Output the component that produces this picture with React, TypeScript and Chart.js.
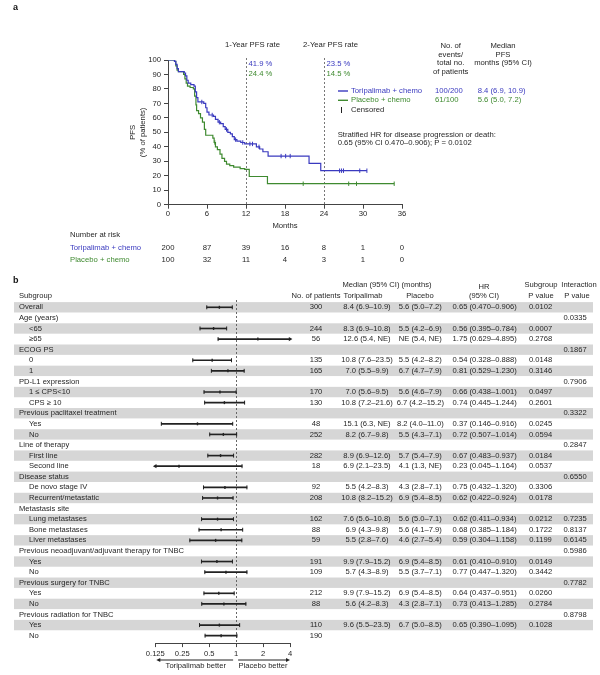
import React, { useEffect, useRef } from 'react';
import { Chart, registerables } from 'chart.js';

Chart.register(...registerables);

const FONT = '"Liberation Sans", Arial, Helvetica, sans-serif';
const BLUE = '#3a3abf';
const GREEN = '#3f8a30';
const INK = '#262626';
const AXIS = '#444444';
const BAND = '#d6d6d6';
const KM_SIZE = 7.7;
const FP_SIZE = 7.6;

// ---------- Panel a: Kaplan–Meier ----------
const kmMonthTicks = [0, 6, 12, 18, 24, 30, 36];
const toriSteps: [number, number][] = [
  [0, 100], [1.0, 99], [1.2, 97], [1.4, 94], [1.6, 92], [2.5, 91], [2.7, 89], [2.9, 86], [3.1, 84],
  [3.5, 83], [4.0, 82], [4.2, 78], [4.4, 74], [4.6, 71], [5.5, 70], [5.8, 67], [6.0, 64], [6.3, 62],
  [7.0, 61], [7.3, 59], [7.7, 57], [8.1, 56], [8.5, 54], [8.8, 52], [9.2, 50], [9.6, 49], [9.9, 47],
  [10.2, 45], [10.6, 44], [11.2, 43], [11.8, 42], [13.6, 40], [14.1, 38.5], [14.6, 36.6], [15.4, 33.6],
  [21.7, 28.6], [23.5, 23.5], [30.6, 23.5],
];
const placeboSteps: [number, number][] = [
  [0, 100], [1.0, 99], [1.2, 96], [1.4, 93], [1.6, 92], [2.4, 90], [2.6, 87], [2.8, 84], [3.0, 82],
  [3.4, 81], [3.9, 80], [4.1, 75], [4.3, 69], [4.4, 65], [4.7, 63], [5.0, 60], [5.3, 57], [5.6, 52],
  [5.8, 48], [6.9, 46], [7.1, 43], [7.3, 40], [7.6, 38], [8.0, 35], [8.3, 32], [8.7, 30], [9.0, 28],
  [9.5, 27], [10.1, 26], [11.1, 25], [11.8, 24.4], [12.5, 19.5], [15.3, 14.5], [34.8, 14.5],
];
const toriCensored: [number, number][] = [
  [5.2, 71], [6.8, 62], [7.9, 57], [9.0, 52], [10.4, 45], [11.5, 43], [12.6, 42], [13.0, 42], [14.0, 40],
  [17.4, 33.6], [18.1, 33.6], [18.8, 33.6], [26.4, 23.5], [26.7, 23.5], [27.0, 23.5], [29.5, 23.5], [30.6, 23.5],
];
const placeboCensored: [number, number][] = [
  [7.2, 43], [20.8, 14.5], [27.8, 14.5], [29.0, 14.5], [34.8, 14.5],
];
const riskTori = [200, 87, 39, 16, 8, 1, 0];
const riskPlacebo = [100, 32, 11, 4, 3, 1, 0];
const landmarkMonths = [12, 24];
const landmarkLabels = ['1-Year PFS rate', '2-Year PFS rate'];
const landmarkTori = ['41.9 %', '23.5 %'];
const landmarkPlacebo = ['24.4 %', '14.5 %'];
const armNames = ['Toripalimab + chemo', 'Placebo + chemo'];
const armEvents = ['100/200', '61/100'];
const armMedian = ['8.4 (6.9, 10.9)', '5.6 (5.0, 7.2)'];

// ---------- Panel b: forest plot ----------
const subgroupLabels = [
  'Overall', 'Age (years)', '<65', '≥65', 'ECOG PS', '0', '1', 'PD-L1 expression', '1 ≤ CPS<10', 'CPS ≥ 10',
  'Previous paclitaxel treatment', 'Yes', 'No', 'Line of therapy', 'First line', 'Second line', 'Disease status',
  'De novo stage IV', 'Recurrent/metastatic', 'Metastasis site', 'Lung metastases', 'Bone metastases',
  'Liver metastases', 'Previous neoadjuvant/adjuvant therapy for TNBC', 'Yes', 'No', 'Previous surgery for TNBC',
  'Yes', 'No', 'Previous radiation for TNBC', 'Yes', 'No',
];
const subgroupIndent = [0, 0, 1, 1, 0, 1, 1, 0, 1, 1, 0, 1, 1, 0, 1, 1, 0, 1, 1, 0, 1, 1, 1, 0, 1, 1, 0, 1, 1, 0, 1, 1];
const patients = ['300', '', '244', '56', '', '135', '165', '', '170', '130', '', '48', '252', '', '282', '18', '',
  '92', '208', '', '162', '88', '59', '', '191', '109', '', '212', '88', '', '110', '190'];
const toriMedian = ['8.4 (6.9–10.9)', '', '8.3 (6.9–10.8)', '12.6 (5.4, NE)', '', '10.8 (7.6–23.5)', '7.0 (5.5–9.9)', '',
  '7.0 (5.6–9.5)', '10.8 (7.2–21.6)', '', '15.1 (6.3, NE)', '8.2 (6.7–9.8)', '', '8.9 (6.9–12.6)', '6.9 (2.1–23.5)', '',
  '5.5 (4.2–8.3)', '10.8 (8.2–15.2)', '', '7.6 (5.6–10.8)', '6.9 (4.3–9.8)', '5.5 (2.8–7.6)', '', '9.9 (7.9–15.2)',
  '5.7 (4.3–8.9)', '', '9.9 (7.9–15.2)', '5.6 (4.2–8.3)', '', '9.6 (5.5–23.5)', ''];
const placeboMedian = ['5.6 (5.0–7.2)', '', '5.5 (4.2–6.9)', 'NE (5.4, NE)', '', '5.5 (4.2–8.2)', '6.7 (4.7–7.9)', '',
  '5.6 (4.6–7.9)', '6.7 (4.2–15.2)', '', '8.2 (4.0–11.0)', '5.5 (4.3–7.1)', '', '5.7 (5.4–7.9)', '4.1 (1.3, NE)', '',
  '4.3 (2.8–7.1)', '6.9 (5.4–8.5)', '', '5.6 (5.0–7.1)', '5.6 (4.1–7.9)', '4.6 (2.7–5.4)', '', '6.9 (5.4–8.5)',
  '5.5 (3.7–7.1)', '', '6.9 (5.4–8.5)', '4.3 (2.8–7.1)', '', '6.7 (5.0–8.5)', ''];
const hrText = ['0.65 (0.470–0.906)', '', '0.56 (0.395–0.784)', '1.75 (0.629–4.895)', '', '0.54 (0.328–0.888)',
  '0.81 (0.529–1.230)', '', '0.66 (0.438–1.001)', '0.74 (0.445–1.244)', '', '0.37 (0.146–0.916)', '0.72 (0.507–1.014)', '',
  '0.67 (0.483–0.937)', '0.23 (0.045–1.164)', '', '0.75 (0.432–1.320)', '0.62 (0.422–0.924)', '', '0.62 (0.411–0.934)',
  '0.68 (0.385–1.184)', '0.59 (0.304–1.158)', '', '0.61 (0.410–0.910)', '0.77 (0.447–1.320)', '', '0.64 (0.437–0.951)',
  '0.73 (0.413–1.285)', '', '0.65 (0.390–1.095)', ''];
const hrValue = [0.65, null, 0.56, 1.75, null, 0.54, 0.81, null, 0.66, 0.74, null, 0.37, 0.72, null, 0.67, 0.23, null,
  0.75, 0.62, null, 0.62, 0.68, 0.59, null, 0.61, 0.77, null, 0.64, 0.73, null, 0.65, 0.68];
const hrLower = [0.470, null, 0.395, 0.629, null, 0.328, 0.529, null, 0.438, 0.445, null, 0.146, 0.507, null, 0.483, 0.045,
  null, 0.432, 0.422, null, 0.411, 0.385, 0.304, null, 0.410, 0.447, null, 0.437, 0.413, null, 0.390, 0.45];
const hrUpper = [0.906, null, 0.784, 4.895, null, 0.888, 1.230, null, 1.001, 1.244, null, 0.916, 1.014, null, 0.937, 1.164,
  null, 1.320, 0.924, null, 0.934, 1.184, 1.158, null, 0.910, 1.320, null, 0.951, 1.285, null, 1.095, 1.02];
const subgroupP = ['0.0102', '', '0.0007', '0.2768', '', '0.0148', '0.3146', '', '0.0497', '0.2601', '', '0.0245', '0.0594',
  '', '0.0184', '0.0537', '', '0.3306', '0.0178', '', '0.0212', '0.1722', '0.1199', '', '0.0149', '0.3442', '', '0.0260',
  '0.2784', '', '0.1028', ''];
const interactionP = ['', '0.0335', '', '', '0.1867', '', '', '0.7906', '', '', '0.3322', '', '', '0.2847', '', '', '0.6550',
  '', '', '', '0.7235', '0.8137', '0.6145', '0.5986', '', '', '0.7782', '', '', '0.8798', '', ''];
const hrTicks = [0.125, 0.25, 0.5, 1, 2, 4];
const hrTickLabels = ['0.125', '0.25', '0.5', '1', '2', '4'];

function txt(ctx: CanvasRenderingContext2D, s: string, x: number, y: number,
  o: { align?: CanvasTextAlign; color?: string; size?: number; bold?: boolean } = {}) {
  ctx.font = `${o.bold ? 'bold ' : ''}${o.size ?? KM_SIZE}px ${FONT}`;
  ctx.fillStyle = o.color ?? INK;
  ctx.textAlign = o.align ?? 'left';
  ctx.textBaseline = 'middle';
  ctx.fillText(s, x, y);
}

const kmOverlay = {
  id: 'kmOverlay',
  beforeDatasetsDraw(chart: any) {
    const { ctx, scales: { x, y } } = chart;
    ctx.save();
    ctx.strokeStyle = '#777';
    ctx.lineWidth = 1;
    ctx.setLineDash([2, 2]);
    landmarkMonths.forEach((m) => {
      const px = Math.round(x.getPixelForValue(m)) + 0.5;
      ctx.beginPath();
      ctx.moveTo(px, y.getPixelForValue(100) - 2);
      ctx.lineTo(px, y.getPixelForValue(0));
      ctx.stroke();
    });
    ctx.restore();
  },
  afterDraw(chart: any) {
    const { ctx, scales: { x } } = chart;
    ctx.save();
    txt(ctx, 'a', 13, 8, { bold: true, size: 9, color: '#111' });
    landmarkMonths.forEach((m, i) => {
      const px = x.getPixelForValue(m);
      txt(ctx, landmarkLabels[i], px + 6.5, 45, { align: 'center' });
      txt(ctx, landmarkTori[i], px + 2.5, 64, { color: BLUE });
      txt(ctx, landmarkPlacebo[i], px + 2.5, 73.5, { color: GREEN });
    });
    ['No. of', 'events/', 'total no.', 'of patients'].forEach((s, i) =>
      txt(ctx, s, 450.7, 45.7 + i * 8.7, { align: 'center' }));
    ['Median', 'PFS', 'months (95% CI)'].forEach((s, i) =>
      txt(ctx, s, 503, 45.7 + i * 8.7, { align: 'center' }));
    const colors = [BLUE, GREEN];
    [91, 100.3].forEach((ly, i) => {
      ctx.strokeStyle = colors[i];
      ctx.lineWidth = 1.4;
      ctx.setLineDash([]);
      ctx.beginPath();
      ctx.moveTo(338, ly);
      ctx.lineTo(348, ly);
      ctx.stroke();
      txt(ctx, armNames[i], 351, ly, { color: colors[i] });
      txt(ctx, armEvents[i], 435, ly, { color: colors[i] });
      txt(ctx, armMedian[i], 477.7, ly, { color: colors[i] });
    });
    ctx.strokeStyle = '#222';
    ctx.lineWidth = 1;
    ctx.beginPath();
    ctx.moveTo(341.5, 107);
    ctx.lineTo(341.5, 113);
    ctx.stroke();
    txt(ctx, 'Censored', 351, 110);
    txt(ctx, 'Stratified HR for disease progression or death:', 337.7, 134.7);
    txt(ctx, '0.65 (95% CI 0.470–0.906); P = 0.0102', 337.7, 143.3);
    txt(ctx, 'Number at risk', 70, 235.3);
    txt(ctx, armNames[0], 70, 247.7, { color: BLUE });
    txt(ctx, armNames[1], 70, 259.7, { color: GREEN });
    kmMonthTicks.forEach((m, i) => {
      const px = x.getPixelForValue(m);
      txt(ctx, String(riskTori[i]), px, 247.7, { align: 'center' });
      txt(ctx, String(riskPlacebo[i]), px, 259.7, { align: 'center' });
    });
    ctx.restore();
  },
};

const forestOverlay = {
  id: 'forestOverlay',
  beforeDatasetsDraw(chart: any) {
    const { ctx, scales: { x, y } } = chart;
    ctx.save();
    ctx.fillStyle = BAND;
    subgroupLabels.forEach((_, i) => {
      if (i % 2 !== 0) return;
      const t = y.getPixelForValue(i - 0.49);
      const b = y.getPixelForValue(i + 0.49);
      ctx.fillRect(14, t, 593 - 14, b - t);
    });
    const px = Math.round(x.getPixelForValue(1)) + 0.5;
    ctx.strokeStyle = '#666';
    ctx.lineWidth = 1;
    ctx.setLineDash([2, 2]);
    ctx.beginPath();
    ctx.moveTo(px, y.getPixelForValue(-0.5) - 2);
    ctx.lineTo(px, chart.chartArea.bottom);
    ctx.stroke();
    ctx.restore();
  },
  afterDraw(chart: any) {
    const { ctx, scales: { x, y } } = chart;
    ctx.save();
    const S = FP_SIZE;
    txt(ctx, 'b', 13, 281, { bold: true, size: 9, color: '#111' });
    txt(ctx, 'Subgroup', 19, 295.5, { size: S });
    txt(ctx, 'No. of patients', 316, 296, { size: S, align: 'center' });
    txt(ctx, 'Median (95% CI) (months)', 387, 285, { size: S, align: 'center' });
    txt(ctx, 'Toripalimab', 363, 296, { size: S, align: 'center' });
    txt(ctx, 'Placebo', 420, 296, { size: S, align: 'center' });
    txt(ctx, 'HR', 484, 286.5, { size: S, align: 'center' });
    txt(ctx, '(95% CI)', 484, 296, { size: S, align: 'center' });
    txt(ctx, 'Subgroup', 541, 285, { size: S, align: 'center' });
    txt(ctx, 'P value', 541, 296, { size: S, align: 'center' });
    txt(ctx, 'Interaction', 579, 285, { size: S, align: 'center' });
    txt(ctx, 'P value', 577, 296, { size: S, align: 'center' });
    subgroupLabels.forEach((lab, i) => {
      const py = y.getPixelForValue(i);
      txt(ctx, lab, subgroupIndent[i] ? 29 : 19, py, { size: S });
      txt(ctx, patients[i], 316, py, { size: S, align: 'center' });
      txt(ctx, toriMedian[i], 367, py, { size: S, align: 'center' });
      txt(ctx, placeboMedian[i], 420.3, py, { size: S, align: 'center' });
      txt(ctx, hrText[i], 484.7, py, { size: S, align: 'center' });
      txt(ctx, subgroupP[i], 540.5, py, { size: S, align: 'center' });
      txt(ctx, interactionP[i], 575, py, { size: S, align: 'center' });
    });
    // direction arrows
    const ay = 660;
    const l0 = x.getPixelForValue(0.125) + 1;
    const l1 = x.getPixelForValue(1) - 3;
    const r0 = x.getPixelForValue(1) + 2;
    const r1 = x.getPixelForValue(4);
    ctx.strokeStyle = '#222';
    ctx.fillStyle = '#222';
    ctx.lineWidth = 1;
    ctx.setLineDash([]);
    ctx.beginPath();
    ctx.moveTo(l1, ay); ctx.lineTo(l0 + 3, ay);
    ctx.moveTo(r0, ay); ctx.lineTo(r1 - 3, ay);
    ctx.stroke();
    ctx.beginPath();
    ctx.moveTo(l0, ay); ctx.lineTo(l0 + 4, ay - 2); ctx.lineTo(l0 + 4, ay + 2); ctx.closePath();
    ctx.moveTo(r1, ay); ctx.lineTo(r1 - 4, ay - 2); ctx.lineTo(r1 - 4, ay + 2); ctx.closePath();
    ctx.fill();
    txt(ctx, 'Toripalimab better', x.getPixelForValue(0.354), 666, { size: S, align: 'center' });
    txt(ctx, 'Placebo better', x.getPixelForValue(2), 666, { size: S, align: 'center' });
    ctx.restore();
  },
};

const clampHR = (v: number) => Math.min(4, Math.max(0.125, v));

export default function App() {
  const kmRef = useRef<HTMLCanvasElement>(null);
  const fpRef = useRef<HTMLCanvasElement>(null);

  useEffect(() => {
    Chart.defaults.font.family = FONT;
    Chart.defaults.color = INK;

    const km = new Chart(kmRef.current as HTMLCanvasElement, {
      type: 'line',
      data: {
        datasets: [
          {
            label: armNames[0], data: toriSteps.map(([x, y]) => ({ x, y })), borderColor: BLUE,
            borderWidth: 1.2, stepped: true, pointRadius: 0, fill: false,
          } as any,
          {
            label: armNames[1], data: placeboSteps.map(([x, y]) => ({ x, y })), borderColor: GREEN,
            borderWidth: 1.2, stepped: true, pointRadius: 0, fill: false,
          } as any,
          {
            type: 'scatter', label: 'cens1', data: toriCensored.map(([x, y]) => ({ x, y })),
            pointStyle: 'line', pointRotation: 90, pointRadius: 2.2, pointBorderColor: BLUE,
            pointBorderWidth: 1, showLine: false, clip: false,
          } as any,
          {
            type: 'scatter', label: 'cens2', data: placeboCensored.map(([x, y]) => ({ x, y })),
            pointStyle: 'line', pointRotation: 90, pointRadius: 2.2, pointBorderColor: GREEN,
            pointBorderWidth: 1, showLine: false, clip: false,
          } as any,
        ],
      },
      options: {
        animation: false,
        responsive: false,
        devicePixelRatio: 1,
        events: [],
        layout: { padding: { left: 128.5, top: 60, right: 198, bottom: 675 - 204.7 - 26 } },
        plugins: { legend: { display: false }, tooltip: { enabled: false } },
        scales: {
          x: {
            type: 'linear', min: 0, max: 36, offset: false,
            afterBuildTicks: (s: any) => { s.ticks = kmMonthTicks.map((v) => ({ value: v })); },
            ticks: { font: { size: KM_SIZE }, color: INK, padding: 1, maxRotation: 0, autoSkip: false },
            grid: { drawOnChartArea: false, tickLength: 4, color: AXIS },
            border: { color: AXIS },
            title: { display: true, text: 'Months', font: { size: KM_SIZE, lineHeight: 1.25 }, padding: 0, color: INK },
            afterFit: (s: any) => { s.height = 26; },
          },
          y: {
            type: 'linear', min: 0, max: 100, offset: false,
            ticks: { stepSize: 10, font: { size: KM_SIZE }, color: INK, padding: 3 },
            grid: { drawOnChartArea: false, tickLength: 4, color: AXIS },
            border: { color: AXIS },
            title: {
              display: true, text: ['PFS', '(% of patients)'], font: { size: KM_SIZE, lineHeight: 1.25 },
              padding: 0, color: INK,
            },
            afterFit: (s: any) => { s.width = 39.5; },
          },
        },
      } as any,
      plugins: [kmOverlay],
    });

    const ciRows = subgroupLabels.map((_, i) => i).filter((i) => hrValue[i] != null);
    const capPts: { x: number; y: number }[] = [];
    ciRows.forEach((i) => {
      const lo = hrLower[i] as number;
      const hi = hrUpper[i] as number;
      if (lo >= 0.125) capPts.push({ x: lo, y: i });
      if (hi <= 4) capPts.push({ x: hi, y: i });
    });

    const fp = new Chart(fpRef.current as HTMLCanvasElement, {
      type: 'scatter',
      data: {
        datasets: [
          {
            type: 'bar', indexAxis: 'y', label: 'CI',
            data: ciRows.map((i) => ({ y: i, x: [clampHR(hrLower[i] as number), clampHR(hrUpper[i] as number)] })),
            backgroundColor: '#222', borderWidth: 0, barThickness: 1, grouped: false, clip: false,
          } as any,
          {
            label: 'caps', data: capPts, pointStyle: 'line', pointRotation: 90, pointRadius: 2,
            pointBorderColor: '#222', pointBorderWidth: 1, clip: false,
          } as any,
          {
            label: 'HR', data: ciRows.map((i) => ({ x: hrValue[i] as number, y: i })), pointStyle: 'line',
            pointRotation: 90, pointRadius: 1.5, pointBorderColor: '#222', pointBorderWidth: 1.4, clip: false,
          } as any,
          {
            label: 'arrowR', data: ciRows.filter((i) => (hrUpper[i] as number) > 4).map((i) => ({ x: 4, y: i })),
            pointStyle: 'triangle', pointRotation: 90, pointRadius: 2.4, pointBackgroundColor: '#222',
            pointBorderColor: '#222', pointBorderWidth: 0, clip: false,
          } as any,
          {
            label: 'arrowL', data: ciRows.filter((i) => (hrLower[i] as number) < 0.125).map((i) => ({ x: 0.125, y: i })),
            pointStyle: 'triangle', pointRotation: -90, pointRadius: 2.4, pointBackgroundColor: '#222',
            pointBorderColor: '#222', pointBorderWidth: 0, clip: false,
          } as any,
        ],
      },
      options: {
        animation: false,
        responsive: false,
        devicePixelRatio: 1,
        events: [],
        layout: { padding: { left: 155.3, top: 302, right: 310, bottom: 675 - 643.1 - 20 } },
        plugins: { legend: { display: false }, tooltip: { enabled: false } },
        scales: {
          x: {
            type: 'logarithmic', min: 0.125, max: 4, offset: false,
            afterBuildTicks: (s: any) => { s.ticks = hrTicks.map((v) => ({ value: v })); },
            ticks: {
              font: { size: FP_SIZE }, color: INK, padding: 2, autoSkip: false, maxRotation: 0,
              callback: (_v: any, idx: number) => hrTickLabels[idx],
            },
            grid: { drawOnChartArea: false, tickLength: 4, color: AXIS, offset: false },
            border: { color: AXIS },
            afterFit: (s: any) => { s.height = 20; },
          },
          y: {
            type: 'linear', min: -0.5, max: 31.7, reverse: true, display: false, offset: false,
            grid: { offset: false },
          },
        },
      } as any,
      plugins: [forestOverlay],
    });

    return () => { km.destroy(); fp.destroy(); };
  }, []);

  return (
    <div style={{ position: 'absolute', left: 0, top: 0, width: 600, height: 675, background: '#fff' }}>
      <canvas ref={kmRef} width={600} height={675} style={{ position: 'absolute', left: 0, top: 0 }} />
      <canvas ref={fpRef} width={600} height={675} style={{ position: 'absolute', left: 0, top: 0 }} />
    </div>
  );
}
